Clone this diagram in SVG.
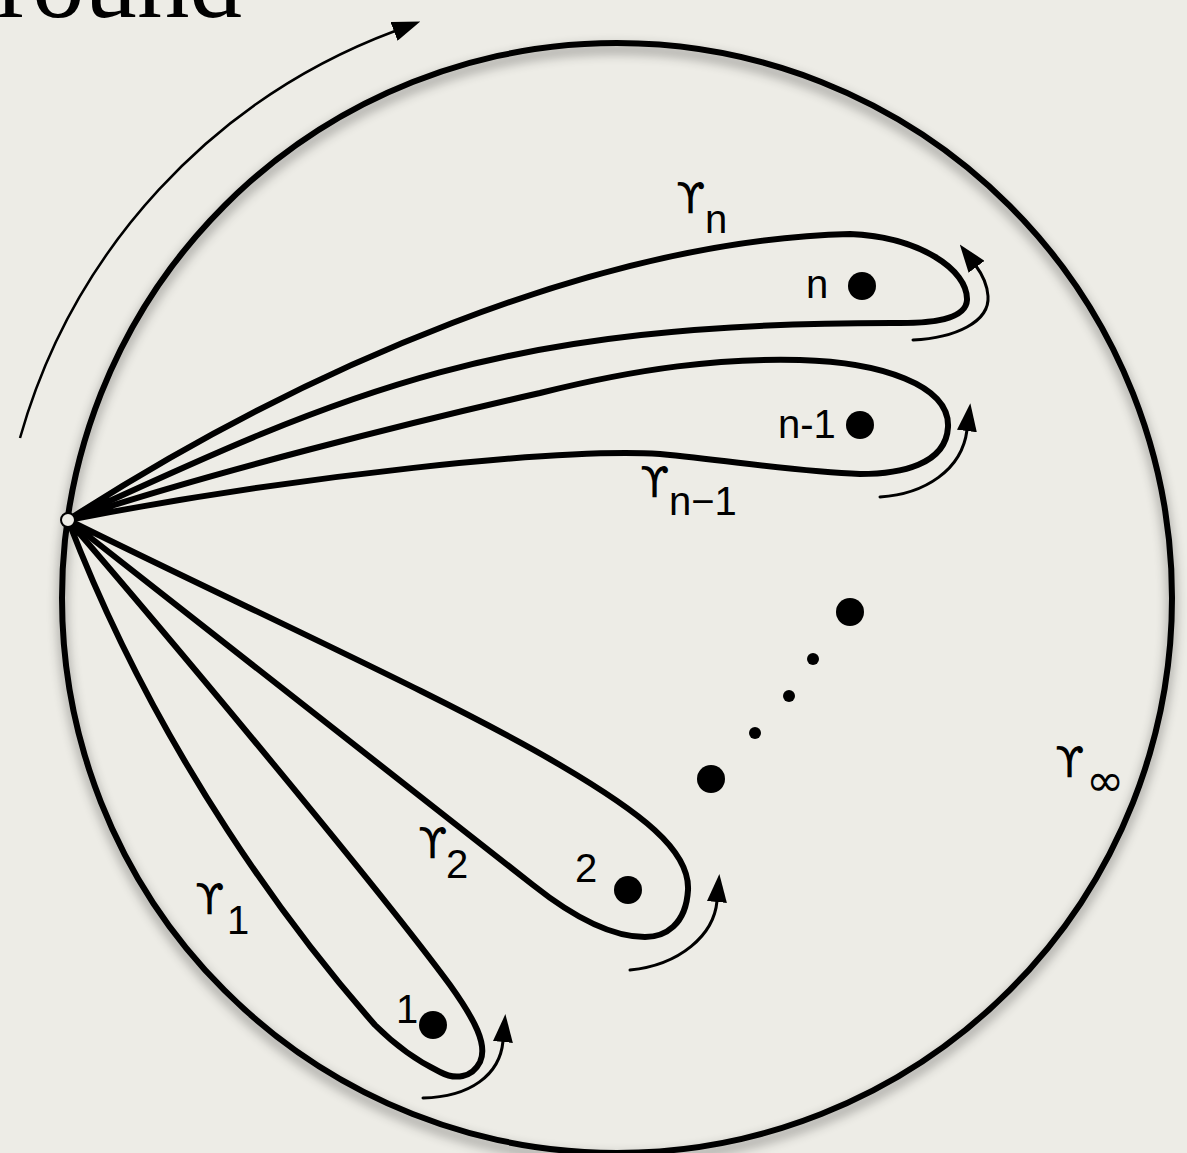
<svg xmlns="http://www.w3.org/2000/svg" width="1187" height="1153" viewBox="0 0 1187 1153">
<defs>
<style>
.loop{fill:none;stroke:#000;stroke-width:6;stroke-linejoin:round;stroke-linecap:round}
.arr{fill:none;stroke:#000;stroke-width:3;stroke-linecap:round}
.dot{fill:#000}
.lbl{font-family:"Liberation Sans","Helvetica",Arial,sans-serif;font-size:40px;fill:#000}
.gam{font-family:"DejaVu Sans","Noto Sans",sans-serif;font-size:42px;fill:#000}
</style>
<marker id="ah" viewBox="0 0 28 20" refX="1" refY="10" markerWidth="28" markerHeight="20" markerUnits="userSpaceOnUse" orient="auto">
<path d="M0,0 L28,10 L0,20 Z" fill="#000"/>
</marker>
<filter id="sh" x="-10%" y="-10%" width="120%" height="120%">
<feDropShadow dx="0" dy="6" stdDeviation="6" flood-color="#000" flood-opacity="0.45"/>
</filter>
</defs>
<rect x="0" y="0" width="1187" height="1153" fill="#edece6"/>
<text x="-3" y="17" style="font-family:'Liberation Serif','Times New Roman',serif;font-size:105px;fill:#000">round</text>

<g id="boundary">
<circle cx="617" cy="598" r="555" fill="none" stroke="#000" stroke-width="6" filter="url(#sh)"/>
</g>

<g id="connectors">
<path id="around-arrow" d="M 20 438 A 612 612 0 0 1 395 31" fill="none" stroke="#000" stroke-width="2.5" marker-end="url(#ah)"/>
<path id="arr-n" class="arr" d="M 913 340 C 955 338, 990 322, 988 296 C 987 283, 982 274, 976 266" marker-end="url(#ah)"/>
<path id="arr-n1" class="arr" d="M 880 497 C 925 494, 962 470, 967 430" marker-end="url(#ah)"/>
<path id="arr-2" class="arr" d="M 630 970 C 680 965, 714 935, 717 901" marker-end="url(#ah)"/>
<path id="arr-1" class="arr" d="M 423 1098 C 470 1097, 500 1075, 503 1041" marker-end="url(#ah)"/>
</g>

<g id="loop-n">
<path class="loop" d="M 68 520 C 300 370, 600 240, 850 234 C 920 237, 968 270, 967 300 C 966 320, 930 323, 900 323 C 500 322, 350 390, 68 520 Z"/>
<text class="gam" x="676" y="213">ϒ</text>
<text class="lbl" x="705" y="233">n</text>
</g>

<g id="loop-n1">
<path class="loop" d="M 68 520 C 200 475, 420 420, 540 393 C 640 368, 720 358, 800 360 C 880 362, 950 385, 948 427 C 946 465, 900 474, 860 474 C 800 472, 740 462, 660 454 C 560 448, 300 475, 68 520 Z"/>
<text class="gam" x="640" y="497">ϒ</text>
<text class="lbl" x="669" y="515">n−1</text>
</g>

<g id="loop-2">
<path class="loop" d="M 68 520 C 250 610, 450 700, 560 765 C 640 812, 690 850, 688 890 C 686 925, 665 937, 645 937 C 610 937, 572 916, 533 885 L 68 520 Z"/>
<text class="gam" x="418" y="858">ϒ</text>
<text class="lbl" x="446" y="878">2</text>
</g>

<g id="loop-1">
<path class="loop" d="M 68 520 C 180 650, 380 890, 450 985 C 475 1020, 488 1045, 480 1062 C 472 1078, 455 1080, 440 1072 C 415 1060, 395 1045, 375 1025 C 300 940, 160 760, 68 520 Z"/>
<text class="gam" x="195" y="914">ϒ</text>
<text class="lbl" x="227" y="934">1</text>
</g>

<g id="base-point">
<circle cx="68" cy="520" r="7" fill="#edece6" stroke="#000" stroke-width="2"/>
</g>

<g id="point-n"><circle class="dot" cx="862" cy="286" r="14"/><text class="lbl" x="806" y="298">n</text></g>
<g id="point-n1"><circle class="dot" cx="860" cy="425" r="14"/><text class="lbl" x="778" y="438">n-1</text></g>
<g id="point-a"><circle class="dot" cx="850" cy="612" r="14"/></g>
<g id="ellipsis"><circle class="dot" cx="813" cy="659" r="6"/><circle class="dot" cx="789" cy="696" r="6"/><circle class="dot" cx="755" cy="733" r="6"/></g>
<g id="point-b"><circle class="dot" cx="711" cy="779" r="14"/></g>
<g id="point-2"><circle class="dot" cx="628" cy="890" r="14"/><text class="lbl" x="575" y="882">2</text></g>
<g id="point-1"><circle class="dot" cx="433" cy="1025" r="14"/><text class="lbl" x="396" y="1023">1</text></g>

<g id="gamma-inf">
<text class="gam" x="1055" y="777">ϒ</text>
<text x="1086" y="796" style="font-family:'DejaVu Sans',sans-serif;font-size:46px;fill:#000">∞</text>
</g>
</svg>
